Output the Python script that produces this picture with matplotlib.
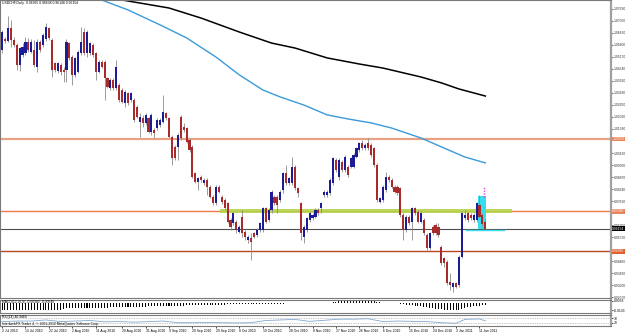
import numpy as np
import matplotlib
matplotlib.use("Agg")
import matplotlib.pyplot as plt
from matplotlib.patches import Rectangle

plt.rcParams["font.family"] = ["Liberation Sans", "DejaVu Sans"]

# ---- USDCHF daily candles ----
opens = [1.0554, 1.0610, 1.0603, 1.0667, 1.0606, 1.0580, 1.0475, 1.0527, 1.0536, 1.0597,
         1.0545, 1.0554, 1.0466, 1.0597, 1.0580, 1.0610, 1.0667, 1.0606, 1.0484, 1.0445,
         1.0475, 1.0449, 1.0449, 1.0589, 1.0519, 1.0422, 1.0440, 1.0536, 1.0650, 1.0536,
         1.0536, 1.0580, 1.0536, 1.0440, 1.0492, 1.0492, 1.0405, 1.0352, 1.0396, 1.0352,
         1.0370, 1.0344, 1.0274, 1.0326, 1.0291, 1.0291, 1.0256, 1.0177, 1.0195, 1.0169,
         1.0195, 1.0125, 1.0134, 1.0142, 1.0160, 1.0177, 1.0221, 1.0195, 1.0099, 1.0046,
         1.0046, 1.0204, 1.0151, 1.0142, 1.0081, 1.0046, 0.9906, 0.9862, 0.9889, 0.9854,
         0.9871, 0.9836, 0.9784, 0.9749, 0.9836, 0.9784, 0.9766, 0.9749, 0.9661, 0.9644,
         0.9652, 0.9600, 0.9679, 0.9600, 0.9556, 0.9565, 0.9591, 0.9582, 0.9609, 0.9609,
         0.9722, 0.9661, 0.9714, 0.9784, 0.9784, 0.9766, 0.9819, 0.9906, 0.9854, 0.9854,
         0.9941, 0.9827, 0.9749, 0.9574, 0.9609, 0.9661, 0.9670, 0.9679, 0.9714, 0.9722,
         0.9792, 0.9792, 0.9801, 0.9854, 0.9976, 0.9889, 0.9967, 0.9924, 0.9941, 0.9941,
         0.9941, 0.9994, 1.0029, 1.0064, 1.0037, 1.0064, 1.0055, 1.0037, 0.9950, 0.9757,
         0.9766, 0.9819, 0.9889, 0.9871, 0.9836, 0.9836, 0.9827, 0.9687, 0.9609, 0.9679,
         0.9652, 0.9722, 0.9705, 0.9652, 0.9661, 0.9582, 0.9512, 0.9626, 0.9635, 0.9626,
         0.9521, 0.9460, 0.9442, 0.9337, 0.9311, 0.9329, 0.9320, 0.9469, 0.9670, 0.9696,
         0.9687, 0.9661, 0.9661, 0.9740, 0.9687, 0.9652]
highs = [1.0659, 1.0624, 1.0732, 1.0711, 1.0624, 1.0589, 1.0571, 1.0589, 1.0624, 1.0615,
         1.0610, 1.0606, 1.0610, 1.0606, 1.0641, 1.0697, 1.0676, 1.0615, 1.0492, 1.0492,
         1.0484, 1.0466, 1.0610, 1.0597, 1.0527, 1.0519, 1.0554, 1.0676, 1.0667, 1.0659,
         1.0597, 1.0589, 1.0545, 1.0501, 1.0501, 1.0501, 1.0414, 1.0405, 1.0405, 1.0501,
         1.0379, 1.0352, 1.0344, 1.0335, 1.0335, 1.0300, 1.0265, 1.0221, 1.0212, 1.0221,
         1.0204, 1.0221, 1.0142, 1.0195, 1.0195, 1.0317, 1.0230, 1.0204, 1.0107, 1.0055,
         1.0116, 1.0212, 1.0169, 1.0151, 1.0090, 1.0055, 0.9915, 0.9889, 0.9897, 0.9880,
         0.9880, 0.9845, 0.9792, 0.9845, 0.9845, 0.9792, 0.9775, 0.9757, 0.9670, 0.9705,
         0.9661, 0.9635, 0.9714, 0.9609, 0.9582, 0.9591, 0.9600, 0.9617, 0.9652, 0.9731,
         0.9731, 0.9722, 0.9819, 0.9792, 0.9792, 0.9819, 0.9915, 0.9950, 0.9889, 0.9994,
         0.9950, 0.9836, 0.9757, 0.9635, 0.9679, 0.9705, 0.9696, 0.9722, 0.9722, 0.9757,
         0.9819, 0.9819, 0.9880, 0.9994, 0.9985, 0.9985, 0.9976, 1.0003, 0.9950, 0.9994,
         1.0011, 1.0046, 1.0072, 1.0081, 1.0064, 1.0090, 1.0064, 1.0046, 0.9959, 0.9784,
         0.9845, 0.9915, 0.9897, 0.9880, 0.9845, 0.9845, 0.9836, 0.9696, 0.9687, 0.9687,
         0.9731, 0.9731, 0.9714, 0.9705, 0.9670, 0.9591, 0.9600, 0.9635, 0.9644, 0.9644,
         0.9530, 0.9469, 0.9451, 0.9381, 0.9337, 0.9337, 0.9477, 0.9705, 0.9714, 0.9705,
         0.9696, 0.9696, 0.9757, 0.9792, 0.9700, 0.9664]
lows = [1.0540, 1.0592, 1.0597, 1.0571, 1.0571, 1.0449, 1.0445, 1.0519, 1.0527, 1.0545,
        1.0536, 1.0466, 1.0440, 1.0545, 1.0571, 1.0603, 1.0606, 1.0414, 1.0440, 1.0431,
        1.0422, 1.0387, 1.0387, 1.0501, 1.0370, 1.0414, 1.0431, 1.0527, 1.0527, 1.0519,
        1.0527, 1.0519, 1.0396, 1.0431, 1.0457, 1.0291, 1.0352, 1.0344, 1.0344, 1.0344,
        1.0282, 1.0274, 1.0256, 1.0265, 1.0282, 1.0177, 1.0195, 1.0099, 1.0151, 1.0160,
        1.0116, 1.0107, 1.0090, 1.0134, 1.0151, 1.0169, 1.0186, 1.0090, 0.9950, 0.9976,
        0.9976, 1.0081, 1.0125, 1.0064, 1.0020, 0.9880, 0.9854, 0.9819, 0.9862, 0.9845,
        0.9792, 0.9775, 0.9740, 0.9740, 0.9801, 0.9745, 0.9714, 0.9644, 0.9609, 0.9635,
        0.9591, 0.9591, 0.9574, 0.9556, 0.9539, 0.9451, 0.9565, 0.9574, 0.9600, 0.9600,
        0.9644, 0.9652, 0.9696, 0.9740, 0.9696, 0.9757, 0.9801, 0.9845, 0.9845, 0.9845,
        0.9819, 0.9784, 0.9556, 0.9539, 0.9600, 0.9652, 0.9661, 0.9670, 0.9687, 0.9696,
        0.9784, 0.9784, 0.9792, 0.9845, 0.9915, 0.9871, 0.9915, 0.9915, 0.9889, 0.9932,
        0.9932, 0.9985, 1.0020, 1.0029, 1.0029, 1.0029, 0.9994, 0.9941, 0.9757, 0.9749,
        0.9757, 0.9810, 0.9862, 0.9827, 0.9801, 0.9792, 0.9679, 0.9556, 0.9600, 0.9635,
        0.9556, 0.9687, 0.9644, 0.9644, 0.9582, 0.9504, 0.9504, 0.9582, 0.9582, 0.9574,
        0.9425, 0.9416, 0.9320, 0.9294, 0.9285, 0.9302, 0.9311, 0.9460, 0.9661, 0.9652,
        0.9661, 0.9652, 0.9652, 0.9670, 0.9630, 0.9614]
closes = [1.0650, 1.0603, 1.0667, 1.0606, 1.0580, 1.0475, 1.0562, 1.0571, 1.0597, 1.0554,
          1.0597, 1.0475, 1.0597, 1.0554, 1.0632, 1.0676, 1.0615, 1.0449, 1.0449, 1.0484,
          1.0440, 1.0440, 1.0597, 1.0510, 1.0422, 1.0510, 1.0545, 1.0597, 1.0536, 1.0650,
          1.0589, 1.0527, 1.0440, 1.0492, 1.0466, 1.0405, 1.0361, 1.0396, 1.0352, 1.0466,
          1.0291, 1.0282, 1.0335, 1.0274, 1.0326, 1.0186, 1.0204, 1.0204, 1.0169, 1.0212,
          1.0125, 1.0212, 1.0116, 1.0186, 1.0186, 1.0230, 1.0195, 1.0099, 0.9985, 0.9985,
          1.0107, 1.0090, 1.0134, 1.0072, 1.0029, 0.9889, 0.9862, 0.9880, 0.9871, 0.9871,
          0.9836, 0.9784, 0.9749, 0.9836, 0.9810, 0.9757, 0.9722, 0.9652, 0.9626, 0.9696,
          0.9609, 0.9626, 0.9591, 0.9574, 0.9574, 0.9547, 0.9574, 0.9609, 0.9644, 0.9722,
          0.9652, 0.9714, 0.9810, 0.9749, 0.9740, 0.9810, 0.9906, 0.9854, 0.9880, 0.9941,
          0.9827, 0.9801, 0.9591, 0.9626, 0.9670, 0.9696, 0.9687, 0.9714, 0.9696, 0.9749,
          0.9810, 0.9810, 0.9871, 0.9985, 0.9924, 0.9976, 0.9924, 0.9994, 0.9897, 0.9985,
          1.0003, 1.0037, 1.0064, 1.0037, 1.0055, 1.0037, 1.0003, 0.9950, 0.9766, 0.9775,
          0.9836, 0.9889, 0.9871, 0.9836, 0.9810, 0.9801, 0.9687, 0.9609, 0.9679, 0.9644,
          0.9722, 0.9696, 0.9652, 0.9696, 0.9591, 0.9512, 0.9591, 0.9591, 0.9591, 0.9582,
          0.9434, 0.9434, 0.9329, 0.9320, 0.9329, 0.9311, 0.9469, 0.9696, 0.9687, 0.9661,
          0.9670, 0.9687, 0.9749, 0.9679, 0.9640, 0.9615]

# moving averages (visible part only): bar index -> value
ma_slow_bars = [41, 57, 68, 81, 92, 100, 111, 122, 130, 143, 150, 156, 165]
ma_slow_vals = [1.0816, 1.0774, 1.0721, 1.0648, 1.0590, 1.0564, 1.0512, 1.0480,
                1.0459, 1.0412, 1.0381, 1.0349, 1.0312]
ma_fast_bars = [34, 43, 54, 63, 73, 81, 89, 95, 103, 111, 118, 126, 133, 143, 150, 158, 165]
ma_fast_vals = [1.0816, 1.0764, 1.0685, 1.0617, 1.0517, 1.0423, 1.0344, 1.0307, 1.0265,
                1.0213, 1.0192, 1.0171, 1.0144, 1.0092, 1.0045, 0.9992, 0.9961]

# MACD histogram, one per bar
macd = ([-0.0133] * 14 + [-0.0129, -0.0125, -0.0124, -0.0125, -0.0127, -0.0125, -0.0124] +
        [-0.0105, -0.0103, -0.0101, -0.0099, -0.0099, -0.0097, -0.0095, -0.0093, -0.0093, -0.0091,
         -0.0089, -0.0089, -0.0087, -0.0087, -0.0086, -0.0086, -0.0084, -0.0082, -0.0082, -0.0080,
         -0.0078, -0.0076, -0.0074, -0.0072, -0.0072, -0.0070, -0.0068, -0.0067, -0.0067, -0.0065,
         -0.0063, -0.0063, -0.0061, -0.0061, -0.0059, -0.0057, -0.0057, -0.0055, -0.0053, -0.0051,
         -0.0049, -0.0048] +
        [-0.0040, -0.0039, -0.0038, -0.0037, -0.0036, -0.0036, -0.0035, -0.0034, -0.0033, -0.0032,
         -0.0031, -0.0030, -0.0030, -0.0029, -0.0028, -0.0027, -0.0026, -0.0026, -0.0025, -0.0024,
         -0.0023, -0.0023, -0.0022, -0.0021, -0.0020, -0.0020, -0.0019, -0.0018, -0.0017, -0.0016,
         -0.0015, -0.0014, -0.0012] +
        [-0.0010, -0.0008, -0.0006, -0.0004, -0.0003, -0.0004, -0.0005, -0.0006, -0.0006, -0.0005,
         -0.0004, -0.0003, -0.0002, 0.0000, 0.0002, 0.0004, 0.0006] +
        [0.0015, 0.0023, 0.0034, 0.0042, 0.0049, 0.0057, 0.0061, 0.0063, 0.0063, 0.0061,
         0.0057, 0.0057, 0.0053, 0.0048, 0.0038] +
        [0.0023, 0.0015, 0.0006, 0.0004, 0.0002, 0.0000, -0.0004, -0.0008] +
        [-0.0015, -0.0023, -0.0030, -0.0036, -0.0042, -0.0048, -0.0053, -0.0061, -0.0068, -0.0076,
         -0.0086, -0.0095, -0.0105, -0.0114, -0.0120, -0.0125, -0.0129, -0.0133, -0.0133, -0.0129] +
        [-0.0124, -0.0114, -0.0095, -0.0080, -0.0068, -0.0061, -0.0053, -0.0048, -0.0042, -0.0038])

# RSI(14) sampled along the bars
rsi_bars = [0, 5, 10, 15, 20, 25, 30, 35, 40, 45, 50, 55, 60, 65, 70, 75, 80, 85, 90, 95,
            100, 105, 110, 115, 120, 125, 130, 135, 140, 145, 150, 155, 158, 160, 163, 165]
rsi_vals = [40, 45, 45, 55, 40, 45, 50, 38, 40, 35, 40, 45, 30, 30, 32, 30, 28, 30, 50, 55,
            60, 42, 52, 62, 62, 66, 40, 45, 42, 40, 30, 25, 60, 62, 64, 47]

price_ticks = [0.9257, 0.9320, 0.9383, 0.9446, 0.9572, 0.9635, 0.9761,
               0.9824, 0.9887, 0.9950, 1.0013, 1.0139, 1.0202, 1.0265, 1.0328,
               1.0391, 1.0454, 1.0517, 1.0580, 1.0643, 1.0706, 1.0769]
date_bars = [0, 8, 16, 24, 32, 41, 49, 57, 65, 73, 81, 89, 98, 106, 114, 122, 130, 139, 147, 155, 163]
date_labels = ["2 Jul 2010", "13 Jul 2010", "22 Jul 2010", "2 Aug 2010", "11 Aug 2010",
               "20 Aug 2010", "31 Aug 2010", "9 Sep 2010", "20 Sep 2010", "29 Sep 2010",
               "8 Oct 2010", "19 Oct 2010", "28 Oct 2010", "8 Nov 2010", "17 Nov 2010",
               "26 Nov 2010", "6 Dec 2010", "15 Dec 2010", "24 Dec 2010", "3 Jan 2011",
               "11 Jan 2011"]

# levels drawn on the chart
level_top = 1.0087
level_mid = 0.9708
level_low = 0.9498
last_price = 0.96154

BULL = "#1c1c96"
BEAR = "#a82a2a"
WICK = "#8c8c8c"
FS = 2.4

W, H = 625, 334
fig = plt.figure(figsize=(W / 100, H / 100), dpi=100)


def axes_px(x0, y0, x1, y1):
    return fig.add_axes([x0 / W, 1 - y1 / H, (x1 - x0) / W, (y1 - y0) / H])


ax = axes_px(0, 0, 611, 298)
ax_macd = axes_px(0, 300, 611, 313)
ax_rsi = axes_px(0, 315, 611, 326)

xlim = (-0.7, 207.9)
for a in (ax, ax_macd, ax_rsi):
    a.set_xlim(*xlim)
    a.set_facecolor("white")
    for s in a.spines.values():
        s.set_color("#7a7a7a")
        s.set_linewidth(0.8)
    a.spines["right"].set_linewidth(1.6)
    a.spines["right"].set_color("#a0a0a0")

# ----- main price panel -----
ax.set_ylim(0.9252, 1.0816)
x = np.arange(len(opens))
o = np.array(opens); c = np.array(closes)
up = c >= o
ax.vlines(x, lows, highs, color=WICK, lw=0.6, zorder=3)
body_lo = np.minimum(o, c)
body_h = np.maximum(np.abs(c - o), 0.0003)
ax.bar(x[up], body_h[up], bottom=body_lo[up], width=0.72, color=BULL, zorder=4, linewidth=0)
ax.bar(x[~up], body_h[~up], bottom=body_lo[~up], width=0.72, color=BEAR, zorder=4, linewidth=0)

ax.plot(ma_slow_bars, ma_slow_vals, color="black", lw=1.1, zorder=2)
ax.plot(ma_fast_bars, ma_fast_vals, color="#3a9ad9", lw=1.0, zorder=2)

ax.axhline(level_top, color="#e9a184", lw=1.6, zorder=1)
ax.axhline(level_mid, color="#f07a4a", lw=1.0, zorder=1)
ax.axhline(last_price, color="#505050", lw=0.8, zorder=1)
ax.axhline(level_low, color="#b8461e", lw=1.0, zorder=1)

# green support band and the cyan box of the last bars
ax.add_patch(Rectangle((74.4, 0.9698), 99.6, 0.0021, color="#b4d44c", alpha=0.9, zorder=2, lw=0))
ax.add_patch(Rectangle((162.5, 0.9614), 2.8, 0.0173, color="#37dced", zorder=2, lw=0))
ax.plot([158.4, 171.3], [0.9609, 0.9609], color="#37dced", lw=1.0, zorder=2)
ax.plot([164.5, 164.5], [0.9782, 0.9832], color="#e040e0", lw=1.0, ls=(0, (1, 1)), zorder=5)

ax.yaxis.tick_right()
ax.set_yticks(price_ticks)
ax.set_yticklabels([f"{v:.5f}" for v in price_ticks])
ax.tick_params(axis="y", labelsize=FS, length=1.5, width=0.5, pad=0.5, colors="#333333")
ax.set_xticks([])

for val, fc, tc in [(level_top, "#e8845a", "white"), (level_mid, "#e8845a", "white"),
                    (level_low, "#e06030", "white"), (last_price, "black", "white")]:
    ax.text(1.002, val, f"{val:.5f}", transform=ax.get_yaxis_transform(), fontsize=FS,
            va="center", ha="left", color=tc, zorder=6, clip_on=False,
            bbox=dict(boxstyle="square,pad=0.12", fc=fc, ec="none"))

ax.text(0.004, 0.995, "USDCHF,Daily  0.96365 0.96638 0.96148 0.96154", transform=ax.transAxes,
        fontsize=FS, va="top", ha="left")

# ----- MACD panel -----
ax_macd.set_ylim(-0.0190, 0.0057)
ax_macd.bar(np.arange(len(macd)), macd, width=0.35, color="black", linewidth=0)
ax_macd.yaxis.tick_right()
ax_macd.set_yticks([0.0038, -0.0133])
ax_macd.set_yticklabels(["0.0038", "-0.0133"])
ax_macd.tick_params(axis="y", labelsize=FS, length=1.5, width=0.5, pad=0.5)
ax_macd.set_xticks([])
ax_macd.text(0.004, 0.97, "MACD(12,26,9) -0.00382 -0.00540", transform=ax_macd.transAxes,
             fontsize=FS, va="top", ha="left")

# ----- RSI panel -----
ax_rsi.set_ylim(0, 100)
ax_rsi.plot(rsi_bars, rsi_vals, color="#7fa8d0", lw=0.6)
ax_rsi.axhline(70, color="#909090", lw=0.5, ls=(0, (1, 1.5)))
ax_rsi.axhline(30, color="#909090", lw=0.5, ls=(0, (1, 1.5)))
ax_rsi.yaxis.tick_right()
ax_rsi.set_yticks([70, 30])
ax_rsi.set_yticklabels(["70", "30"])
ax_rsi.tick_params(axis="y", labelsize=FS, length=1.5, width=0.5, pad=0.5)
ax_rsi.text(0.004, 0.98, "RSI(14) 46.9460", transform=ax_rsi.transAxes,
            fontsize=FS, va="top", ha="left")
ax_rsi.text(0.004, 0.02, "InterbankFX Trader 4, \u00a9 2001-2010 MetaQuotes Software Corp.",
            transform=ax_rsi.transAxes, fontsize=FS, va="bottom", ha="left")
ax_rsi.set_xticks(date_bars)
ax_rsi.set_xticklabels(date_labels, ha="left")
ax_rsi.tick_params(axis="x", labelsize=FS, length=1.5, width=0.5, pad=0.8)

fig.savefig("out.png", dpi=100, facecolor="white")
